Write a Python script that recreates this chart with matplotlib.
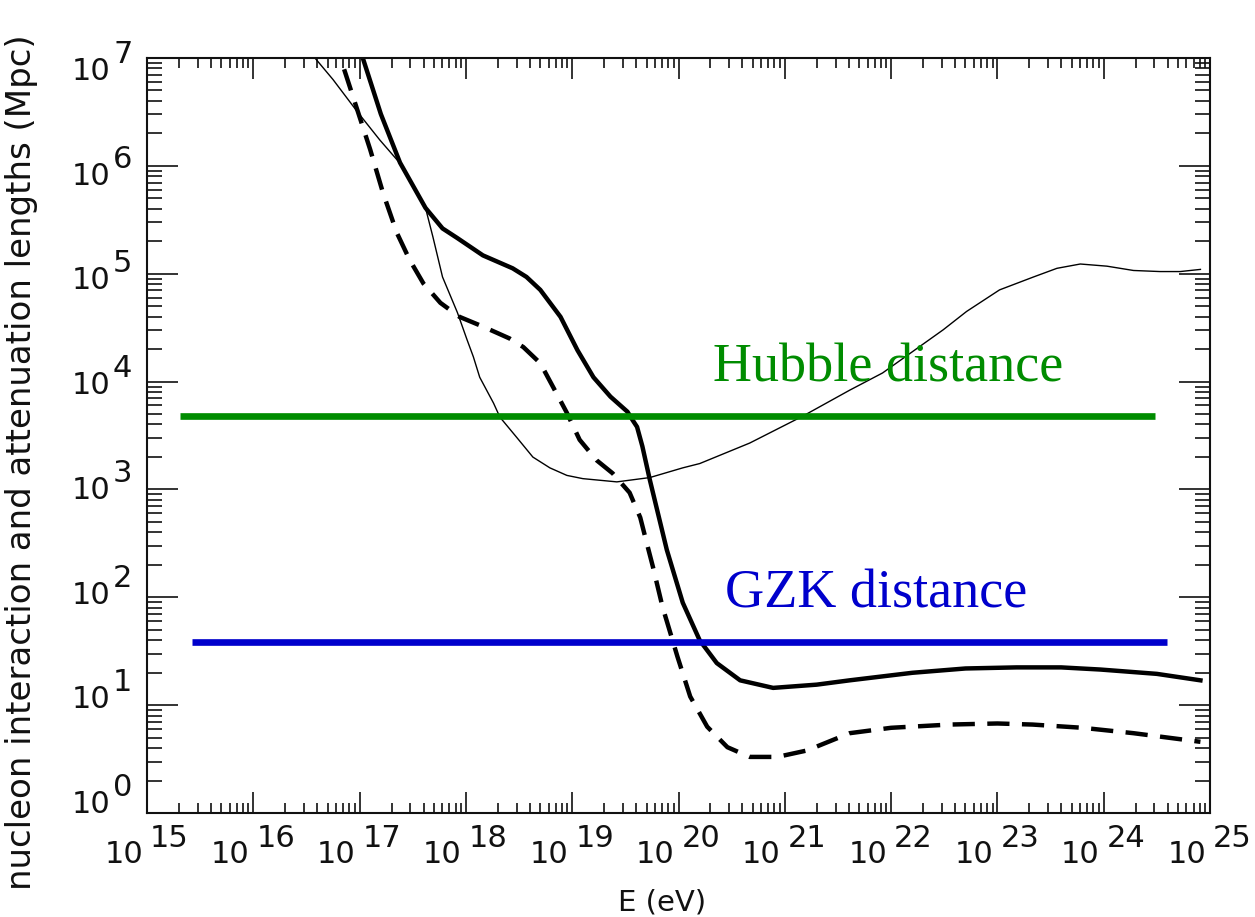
#!/usr/bin/env python3
import matplotlib
matplotlib.use("Agg")
import matplotlib.pyplot as plt
import numpy as np
from matplotlib.ticker import LogLocator, NullFormatter
from matplotlib.transforms import blended_transform_factory, offset_copy

# values are log10(E / eV) and log10(length / Mpc)
thin_logE = [16.45, 16.58, 16.75, 16.98, 17.19, 17.41, 17.62, 17.69, 17.78, 17.92,
             18.01, 18.07, 18.13, 18.26, 18.32, 18.48, 18.63, 18.79, 18.95, 19.10,
             19.42, 19.73, 20.04, 20.20, 20.67, 21.17, 21.61, 21.92, 22.49, 22.71,
             23.02, 23.34, 23.56, 23.78, 24.03, 24.28, 24.53, 24.72, 24.91]
thin_logL = [7.10, 7.00, 6.80, 6.50, 6.24, 5.99, 5.61, 5.34, 4.97, 4.64,
             4.39, 4.23, 4.04, 3.80, 3.67, 3.48, 3.30, 3.20, 3.13, 3.10,
             3.07, 3.11, 3.20, 3.24, 3.43, 3.68, 3.92, 4.08, 4.48, 4.65,
             4.85, 4.97, 5.05, 5.09, 5.07, 5.03, 5.02, 5.02, 5.04]

thick_logE = [16.90, 17.03, 17.20, 17.38, 17.62, 17.78, 17.92, 18.16, 18.44, 18.57,
              18.70, 18.89, 19.05, 19.20, 19.36, 19.52, 19.57, 19.61, 19.66, 19.73,
              19.89, 20.04, 20.20, 20.36, 20.58, 20.89, 21.30, 21.61, 22.20, 22.70,
              23.18, 23.60, 23.97, 24.50, 24.91]
thick_logL = [7.35, 7.00, 6.48, 6.03, 5.61, 5.42, 5.33, 5.17, 5.05, 4.97,
              4.85, 4.60, 4.29, 4.04, 3.86, 3.72, 3.64, 3.58, 3.40, 3.09,
              2.44, 1.95, 1.60, 1.39, 1.23, 1.16, 1.19, 1.23, 1.30, 1.34,
              1.35, 1.35, 1.33, 1.29, 1.23]

dashed_logE = [16.75, 16.82, 17.10, 17.22, 17.35, 17.47, 17.60, 17.76, 17.94, 18.16,
               18.41, 18.54, 18.70, 18.82, 18.95, 19.07, 19.23, 19.38, 19.54, 19.64,
               19.71, 19.76, 19.85, 19.99, 20.11, 20.27, 20.46, 20.67, 20.93, 21.21,
               21.61, 22.00, 22.55, 23.00, 23.33, 23.80, 24.28, 24.91]
dashed_logL = [7.20, 7.00, 6.15, 5.75, 5.38, 5.13, 4.91, 4.73, 4.60, 4.51,
               4.40, 4.32, 4.17, 3.95, 3.71, 3.46, 3.27, 3.15, 2.97, 2.74,
               2.47, 2.28, 1.91, 1.45, 1.08, 0.80, 0.61, 0.52, 0.52, 0.58,
               0.74, 0.79, 0.82, 0.83, 0.82, 0.79, 0.74, 0.66]

hubble_logE = [15.31, 24.48]
hubble_L = 4.8e3
gzk_logE = [15.42, 24.60]
gzk_L = 38.5

x_exponents = list(range(15, 26))
y_exponents = list(range(0, 8))

GREEN = "#008c00"
BLUE = "#0000cc"
TICK_FONT = dict(family="DejaVu Sans", size=22, color="#111111")

fig = plt.figure(figsize=(12.55, 9.17), dpi=100)
ax = fig.add_axes([147 / 1255, 1 - 813 / 917, (1210 - 147) / 1255, (813 - 58) / 917])
ax.set_xscale("log")
ax.set_yscale("log")
ax.set_xlim(1e15, 1e25)
ax.set_ylim(1e0, 1e7)

ax.plot(np.power(10.0, thin_logE), np.power(10.0, thin_logL), color="black", lw=1.0)
ax.plot(np.power(10.0, thick_logE), np.power(10.0, thick_logL), color="black", lw=3.2)
ax.plot(np.power(10.0, dashed_logE), np.power(10.0, dashed_logL), color="black", lw=3.2,
        dashes=(5, 2.8))
ax.plot(np.power(10.0, hubble_logE), [hubble_L, hubble_L], color=GREEN, lw=4.8,
        solid_capstyle="butt")
ax.plot(np.power(10.0, gzk_logE), [gzk_L, gzk_L], color=BLUE, lw=4.8,
        solid_capstyle="butt")

ax.text(10 ** 20.32, 1e4, "Hubble distance", color=GREEN, family="Liberation Serif",
        size=39, ha="left", va="baseline")
ax.text(10 ** 20.44, 80, "GZK distance", color=BLUE, family="Liberation Serif",
        size=39, ha="left", va="baseline")

# ticks on all four sides, pointing inward
for axis in (ax.xaxis, ax.yaxis):
    axis.set_major_locator(LogLocator(base=10, numticks=20))
    axis.set_minor_locator(LogLocator(base=10, subs=np.arange(2, 10), numticks=20))
    axis.set_minor_formatter(NullFormatter())
ax.tick_params(which="both", direction="in", top=True, right=True,
               labelbottom=False, labelleft=False, color="#111111")
ax.tick_params(axis="x", which="major", length=15, width=1.2)
ax.tick_params(axis="x", which="minor", length=7.2, width=1.2)
ax.tick_params(axis="y", which="major", length=22, width=1.2)
ax.tick_params(axis="y", which="minor", length=11, width=1.2)
for spine in ax.spines.values():
    spine.set_linewidth(1.5)
    spine.set_color("#111111")

# IDL-style tick labels: "10" with a full-size exponent
xtr = blended_transform_factory(ax.transData, ax.transAxes)
for e in x_exponents:
    ax.text(10.0 ** e, 0, "10", transform=offset_copy(xtr, fig, x=-4, y=-50, units="dots"),
            ha="right", va="baseline", **TICK_FONT)
    ax.text(10.0 ** e, 0, str(e), transform=offset_copy(xtr, fig, x=3, y=-34, units="dots"),
            ha="left", va="baseline", **TICK_FONT)

ytr = blended_transform_factory(ax.transAxes, ax.transData)
for e in y_exponents:
    drop = -22 * e / 7
    ax.text(0, 10.0 ** e, "10", transform=offset_copy(ytr, fig, x=-37, y=drop, units="dots"),
            ha="right", va="baseline", **TICK_FONT)
    ax.text(0, 10.0 ** e, str(e), transform=offset_copy(ytr, fig, x=-34, y=drop + 17, units="dots"),
            ha="left", va="baseline", **TICK_FONT)

fig.text(662 / 1255, 1 - 902 / 917, "E (eV)", ha="center", va="center",
         family="DejaVu Sans", size=21, color="#111111")
fig.text(22 / 1255, 1 - 462 / 917, "nucleon interaction and attenuation lengths (Mpc)",
         rotation=90, ha="center", va="center", family="DejaVu Sans", size=24.5,
         color="#111111")

fig.savefig("out.png", dpi=100)
